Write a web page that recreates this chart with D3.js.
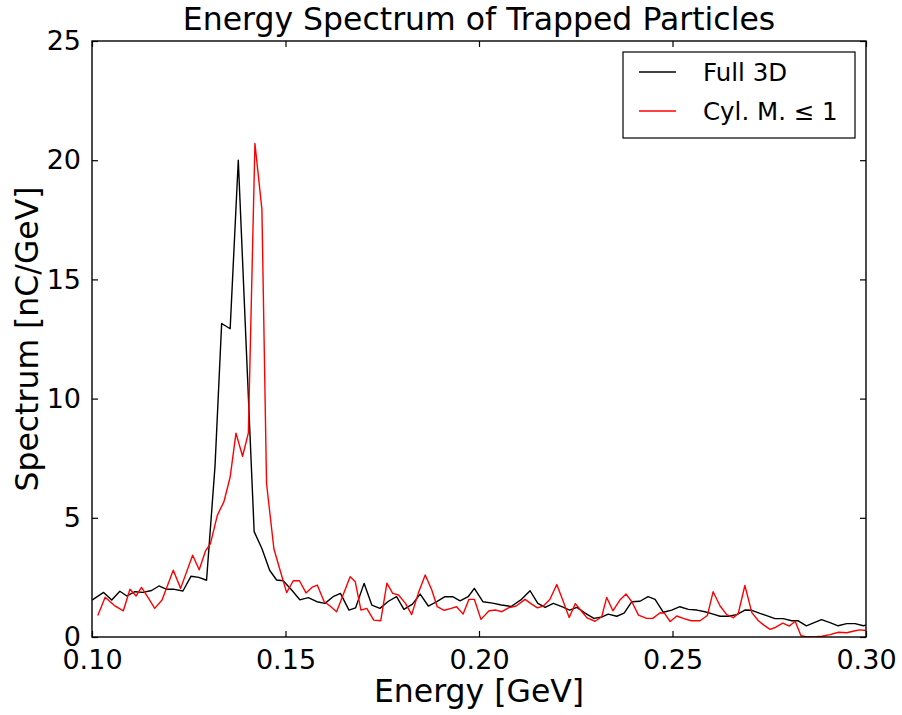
<!DOCTYPE html>
<html>
<head>
<meta charset="utf-8">
<script src="https://cdn.jsdelivr.net/npm/d3@7"></script>
<style>
  html, body { margin: 0; padding: 0; background: #ffffff; }
  svg { display: block; font-family: "DejaVu Sans", sans-serif; }
</style>
</head>
<body>
<svg id="chart" width="902" height="715"></svg>
<script>
// ---------------- data ----------------
const chartTitle = "Energy Spectrum of Trapped Particles";
const xLabel = "Energy [GeV]";
const yLabel = "Spectrum [nC/GeV]";
const seriesNames = ["Full 3D", "Cyl. M. \u2264 1"];

// Full 3D: energy [GeV]
const fullEnergy = [
  0.1000, 0.1030, 0.1051, 0.1072, 0.1090, 0.1111, 0.1132, 0.1154, 0.1173, 0.1193,
  0.1213, 0.1235, 0.1256, 0.1276, 0.1296, 0.1318, 0.1335, 0.1357, 0.1378, 0.1399,
  0.1419, 0.1439, 0.1459, 0.1477, 0.1494, 0.1516, 0.1537, 0.1559, 0.1581, 0.1602,
  0.1623, 0.1642, 0.1664, 0.1681, 0.1703, 0.1723, 0.1744, 0.1766, 0.1787, 0.1806,
  0.1828, 0.1848, 0.1869, 0.1891, 0.1912, 0.1932, 0.1951, 0.1972, 0.1988, 0.2010,
  0.2035, 0.2058, 0.2083, 0.2110, 0.2132, 0.2152, 0.2171, 0.2192, 0.2214, 0.2234,
  0.2253, 0.2274, 0.2297, 0.2318, 0.2334, 0.2356, 0.2375, 0.2395, 0.2416, 0.2437,
  0.2455, 0.2476, 0.2498, 0.2519, 0.2541, 0.2563, 0.2584, 0.2605, 0.2623, 0.2644,
  0.2666, 0.2687, 0.2705, 0.2726, 0.2743, 0.2765, 0.2786, 0.2808, 0.2825, 0.2846,
  0.2866, 0.2885, 0.2907, 0.2928, 0.2950, 0.2972, 0.2993, 0.3000
];
// Full 3D: spectrum [nC/GeV]
const fullSpectrum = [
  1.55, 1.87, 1.55, 1.92, 1.72, 1.90, 1.87, 1.95, 2.14, 2.00,
  2.00, 1.93, 2.55, 2.50, 2.38, 7.20, 13.15, 12.93, 20.00, 12.00,
  4.42, 3.71, 2.80, 2.39, 2.36, 1.97, 1.56, 1.65, 1.48, 1.41,
  1.69, 1.83, 1.13, 1.22, 2.25, 1.34, 1.20, 1.50, 1.69, 1.16,
  1.38, 1.80, 1.30, 1.48, 1.69, 1.69, 1.52, 1.69, 2.04, 1.48,
  1.42, 1.34, 1.28, 1.58, 1.94, 1.41, 1.24, 1.41, 1.27, 1.13,
  1.24, 1.00, 0.78, 0.84, 0.96, 0.87, 1.00, 1.48, 1.50, 1.69,
  1.58, 1.04, 1.13, 1.27, 1.16, 1.13, 1.06, 0.96, 0.87, 0.87,
  0.94, 1.13, 1.12, 0.99, 0.90, 0.77, 0.77, 0.68, 0.68, 0.47,
  0.60, 0.73, 0.60, 0.47, 0.56, 0.56, 0.47, 0.50
];

// Cyl. M. <= 1: energy [GeV]
const cylEnergy = [
  0.1015, 0.1034, 0.1058, 0.1081, 0.1098, 0.1114, 0.1128, 0.1145, 0.1162, 0.1181,
  0.1210, 0.1229, 0.1260, 0.1277, 0.1293, 0.1306, 0.1324, 0.1341, 0.1357, 0.1372,
  0.1389, 0.1404, 0.1421, 0.1439, 0.1451, 0.1470, 0.1486, 0.1503, 0.1520, 0.1536,
  0.1553, 0.1568, 0.1582, 0.1600, 0.1615, 0.1632, 0.1667, 0.1680, 0.1695, 0.1710,
  0.1728, 0.1746, 0.1762, 0.1777, 0.1792, 0.1810, 0.1826, 0.1843, 0.1861, 0.1878,
  0.1892, 0.1910, 0.1928, 0.1942, 0.1959, 0.1974, 0.1988, 0.2005, 0.2026, 0.2044,
  0.2059, 0.2076, 0.2096, 0.2119, 0.2136, 0.2151, 0.2166, 0.2183, 0.2201, 0.2218,
  0.2233, 0.2249, 0.2265, 0.2279, 0.2300, 0.2317, 0.2330, 0.2346, 0.2364, 0.2380,
  0.2395, 0.2412, 0.2433, 0.2449, 0.2468, 0.2479, 0.2494, 0.2511, 0.2528, 0.2548,
  0.2571, 0.2590, 0.2605, 0.2623, 0.2640, 0.2657, 0.2670, 0.2687, 0.2705, 0.2722,
  0.2736, 0.2752, 0.2767, 0.2785, 0.2802, 0.2817, 0.2832, 0.2842, 0.2864, 0.2886,
  0.2907, 0.2929, 0.2950, 0.2972, 0.2984, 0.3000
];
// Cyl. M. <= 1: spectrum [nC/GeV]
const cylSpectrum = [
  0.90, 1.67, 1.32, 1.10, 2.00, 1.72, 2.08, 1.65, 1.20, 1.55,
  2.80, 2.04, 3.43, 2.82, 3.60, 3.92, 5.11, 5.68, 6.71, 8.55,
  7.58, 8.55, 20.70, 17.95, 6.44, 3.70, 2.80, 1.86, 2.36, 2.36,
  1.85, 2.08, 2.18, 1.48, 1.30, 1.06, 2.53, 2.33, 1.13, 1.20,
  0.71, 0.68, 2.26, 1.83, 1.76, 1.41, 0.94, 1.83, 2.60, 1.97,
  1.27, 1.12, 1.20, 1.27, 0.96, 1.58, 1.58, 0.74, 1.10, 1.13,
  1.06, 1.22, 1.30, 1.58, 1.38, 1.22, 1.30, 1.57, 2.20, 1.48,
  0.82, 1.40, 1.08, 0.80, 0.66, 0.85, 1.66, 1.10, 1.55, 1.80,
  1.48, 0.92, 0.78, 0.78, 1.02, 1.00, 0.65, 0.88, 0.78, 0.68,
  0.68, 0.90, 1.90, 1.30, 0.94, 0.81, 0.99, 2.16, 1.02, 0.68,
  0.50, 0.32, 0.41, 0.58, 0.46, 0.66, 0.05, 0.02, 0.00, 0.03,
  0.10, 0.20, 0.18, 0.26, 0.30, 0.27
];

const xTicks = [0.10, 0.15, 0.20, 0.25, 0.30];
const yTicks = [0, 5, 10, 15, 20, 25];
const xDomain = [0.10, 0.30];
const yDomain = [0, 25];

// ---------------- layout ----------------
const plot = { left: 92, right: 866, top: 41, bottom: 637 };
const colors = ["#000000", "#ff0000"];

const svg = d3.select("#chart");
const x = d3.scaleLinear().domain(xDomain).range([plot.left, plot.right]);
const y = d3.scaleLinear().domain(yDomain).range([plot.bottom, plot.top]);

svg.append("rect").attr("width", 902).attr("height", 715).attr("fill", "#ffffff");

svg.append("defs").append("clipPath").attr("id", "plotclip")
  .append("rect")
  .attr("x", plot.left).attr("y", plot.top)
  .attr("width", plot.right - plot.left).attr("height", plot.bottom - plot.top);

// lines
const series = [
  { name: seriesNames[0], e: fullEnergy, s: fullSpectrum, color: colors[0] },
  { name: seriesNames[1], e: cylEnergy, s: cylSpectrum, color: colors[1] }
];
const line = d3.line().x(d => x(d[0])).y(d => y(d[1]));
const gLines = svg.append("g").attr("clip-path", "url(#plotclip)");
series.forEach(sr => {
  gLines.append("path")
    .datum(sr.e.map((e, i) => [e, sr.s[i]]))
    .attr("fill", "none")
    .attr("stroke", sr.color)
    .attr("stroke-width", 1.4)
    .attr("stroke-linejoin", "round")
    .attr("d", line);
});

// axes (inward ticks on all four sides)
const tickLen = 6;
const fmtX = d3.format(".2f");
const fmtY = d3.format("d");

const gx = svg.append("g").attr("transform", `translate(0,${plot.bottom})`)
  .call(d3.axisBottom(x).tickValues(xTicks).tickFormat(fmtX).tickSize(-tickLen).tickPadding(13));
const gy = svg.append("g").attr("transform", `translate(${plot.left},0)`)
  .call(d3.axisLeft(y).tickValues(yTicks).tickFormat(fmtY).tickSize(-tickLen).tickPadding(11));
const gxt = svg.append("g").attr("transform", `translate(0,${plot.top})`)
  .call(d3.axisTop(x).tickValues(xTicks).tickFormat("").tickSize(-tickLen));
const gyr = svg.append("g").attr("transform", `translate(${plot.right},0)`)
  .call(d3.axisRight(y).tickValues(yTicks).tickFormat("").tickSize(-tickLen));

[gx, gy, gxt, gyr].forEach(g => {
  g.select(".domain").remove();
  g.selectAll(".tick line").attr("stroke", "#000").attr("stroke-width", 1.2);
  g.selectAll(".tick text")
    .attr("fill", "#000")
    .style("font-family", "'DejaVu Sans', sans-serif")
    .style("font-size", "27px");
});

// frame
svg.append("rect")
  .attr("x", plot.left).attr("y", plot.top)
  .attr("width", plot.right - plot.left).attr("height", plot.bottom - plot.top)
  .attr("fill", "none").attr("stroke", "#000").attr("stroke-width", 1.4);

// title and labels
svg.append("text")
  .attr("x", (plot.left + plot.right) / 2).attr("y", 30)
  .attr("text-anchor", "middle")
  .style("font-size", "31.5px")
  .text(chartTitle);

svg.append("text")
  .attr("x", (plot.left + plot.right) / 2).attr("y", 702)
  .attr("text-anchor", "middle")
  .style("font-size", "31.5px")
  .text(xLabel);

svg.append("text")
  .attr("transform", `translate(38,${(plot.top + plot.bottom) / 2}) rotate(-90)`)
  .attr("text-anchor", "middle")
  .style("font-size", "31.5px")
  .text(yLabel);

// legend
const leg = svg.append("g");
leg.append("rect")
  .attr("x", 623).attr("y", 52).attr("width", 232).attr("height", 86)
  .attr("fill", "#ffffff").attr("stroke", "#000").attr("stroke-width", 1.2);
const legRowsY = [72, 111];
series.forEach((sr, i) => {
  leg.append("line")
    .attr("x1", 639).attr("x2", 676)
    .attr("y1", legRowsY[i]).attr("y2", legRowsY[i])
    .attr("stroke", sr.color).attr("stroke-width", 1.4);
  leg.append("text")
    .attr("x", 703).attr("y", legRowsY[i])
    .attr("dy", "0.36em")
    .style("font-size", "24.5px")
    .text(sr.name);
});
</script>
</body>
</html>
